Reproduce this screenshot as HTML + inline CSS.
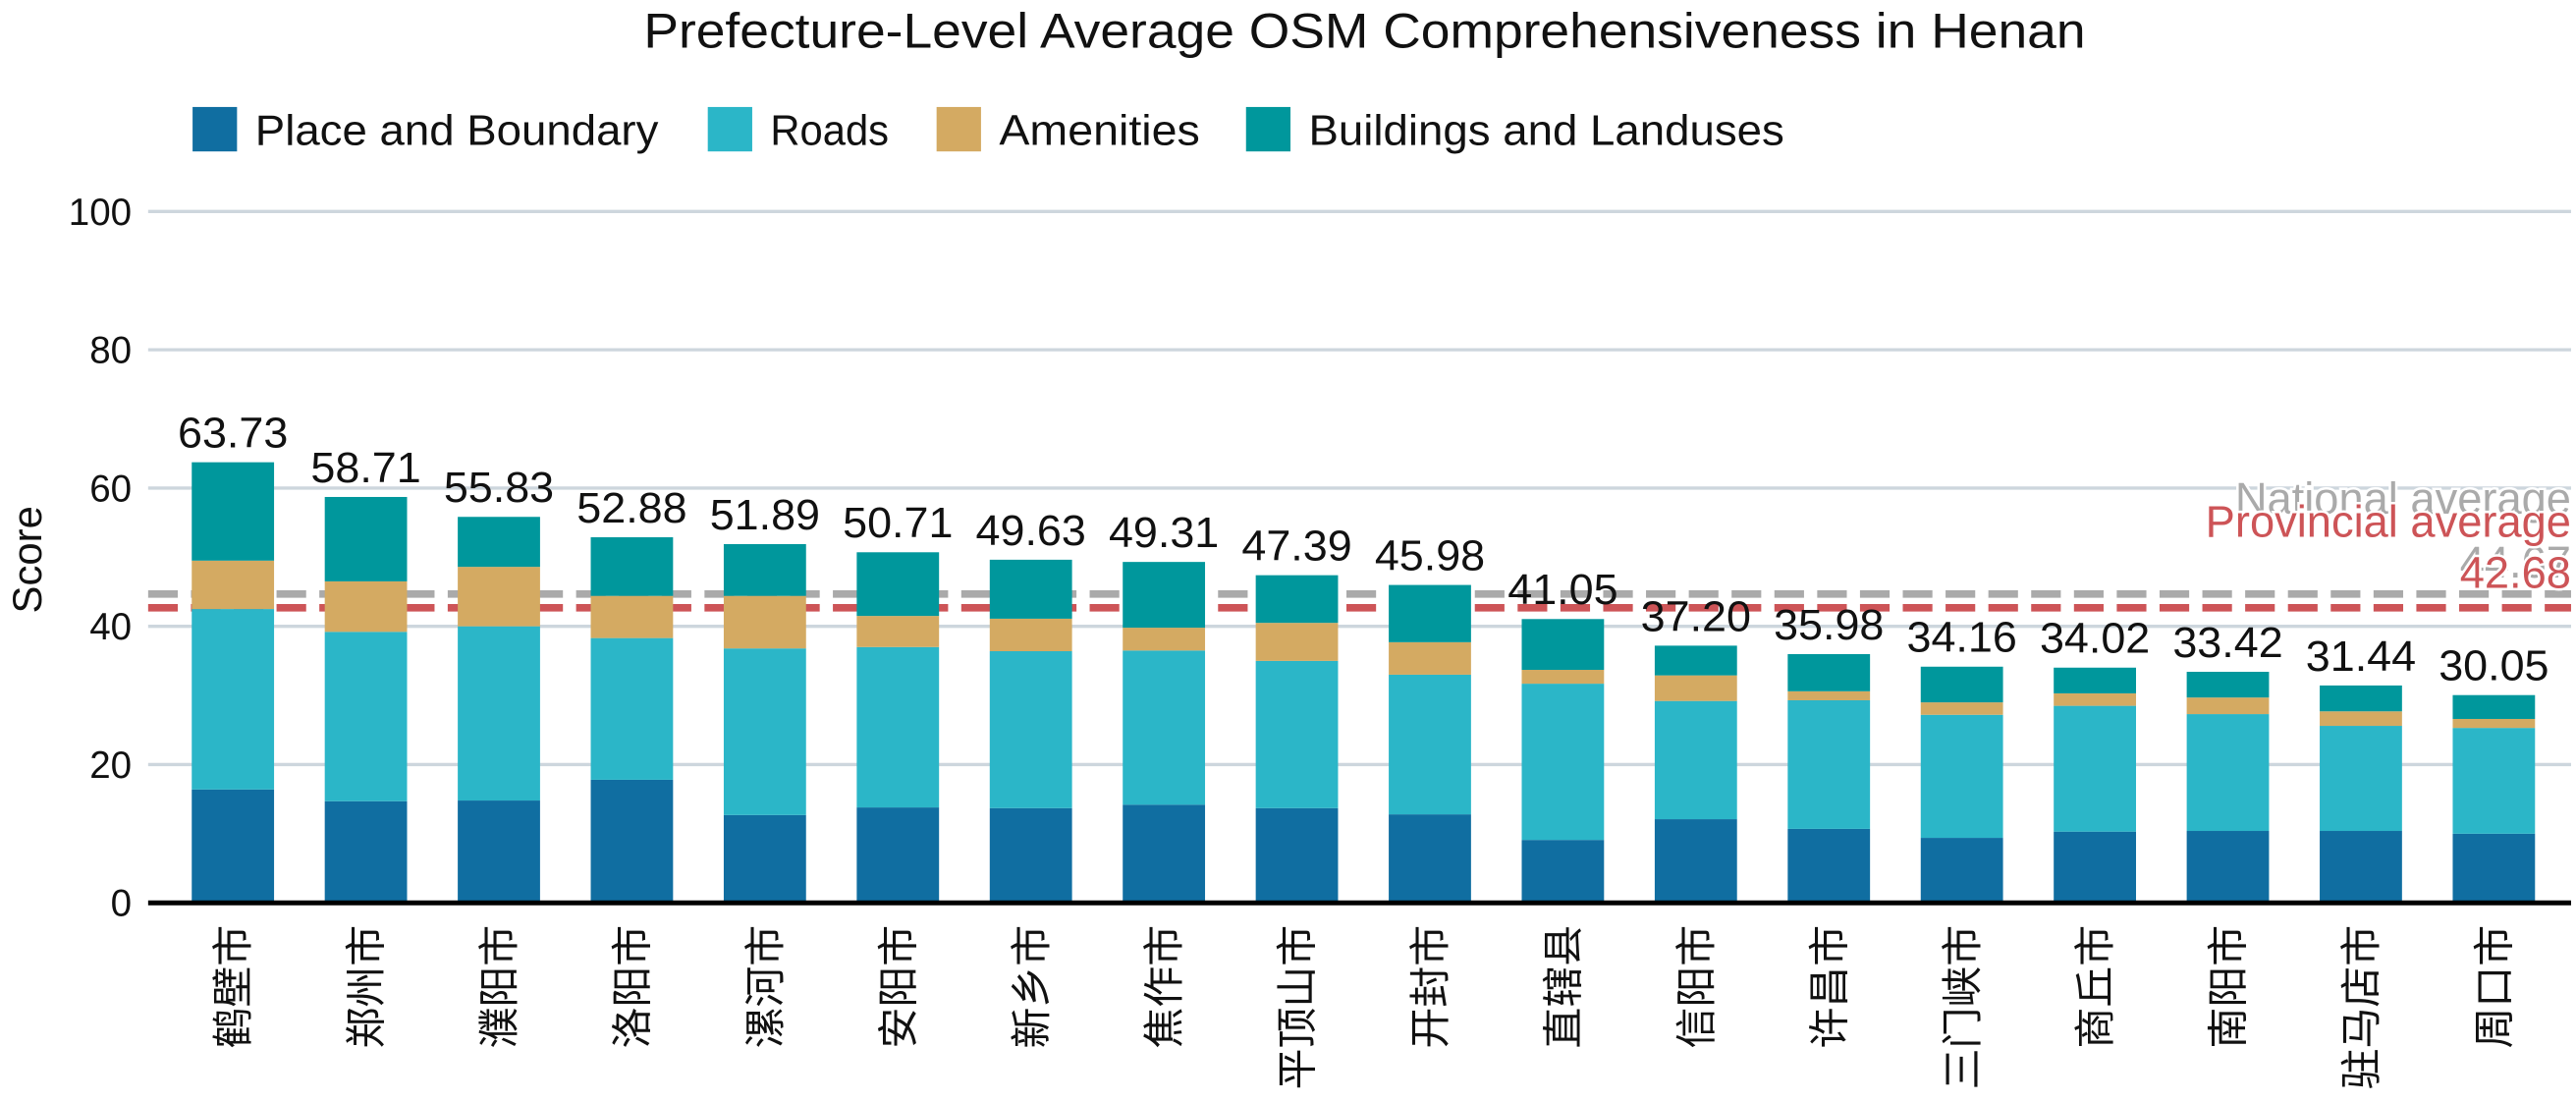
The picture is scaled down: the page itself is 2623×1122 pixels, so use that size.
<!DOCTYPE html>
<html><head><meta charset="utf-8"><style>
html,body{margin:0;padding:0;background:#fff;}
svg{display:block;font-family:"Liberation Sans","Noto Sans CJK SC",sans-serif;}
</style></head><body>
<svg id="chart" width="2623" height="1122" viewBox="0 0 1565 669.5" preserveAspectRatio="none" xmlns="http://www.w3.org/2000/svg">
<text x="829" y="29" font-size="30" text-anchor="middle" fill="#111" textLength="876" lengthAdjust="spacingAndGlyphs">Prefecture-Level Average OSM Comprehensiveness in Henan</text>
<g font-size="26" fill="#111">
<rect x="117" y="65" width="27" height="27" fill="#106ea1"/>
<text x="155" y="88" textLength="245" lengthAdjust="spacingAndGlyphs">Place and Boundary</text>
<rect x="430" y="65" width="27" height="27" fill="#2bb6c8"/>
<text x="468" y="88" textLength="72" lengthAdjust="spacingAndGlyphs">Roads</text>
<rect x="569" y="65" width="27" height="27" fill="#d4aa62"/>
<text x="607" y="88" textLength="122" lengthAdjust="spacingAndGlyphs">Amenities</text>
<rect x="757" y="65" width="27" height="27" fill="#00979c"/>
<text x="795" y="88" textLength="289" lengthAdjust="spacingAndGlyphs">Buildings and Landuses</text>
</g>
<text x="0" y="0" font-size="25" text-anchor="middle" fill="#111" transform="translate(25,340) rotate(-90)">Score</text>
<g id="grid"></g>
<g id="reflines"></g>
<g id="bars"></g>
<g id="labels"></g>
<g id="refs"></g>
</svg>
<script>
const categories = ["鹤壁市","郑州市","濮阳市","洛阳市","漯河市","安阳市","新乡市","焦作市","平顶山市","开封市","直辖县","信阳市","许昌市","三门峡市","商丘市","南阳市","驻马店市","周口市"];
const placeVals = [16.4,14.7,14.8,17.8,12.7,13.8,13.7,14.2,13.7,12.8,9.1,12.1,10.7,9.4,10.3,10.4,10.4,10.0];
const roadVals = [26.1,24.5,25.2,20.5,24.1,23.2,22.7,22.3,21.3,20.2,22.6,17.1,18.6,17.8,18.2,16.9,15.2,15.3];
const amenityVals = [7.0,7.3,8.6,6.1,7.6,4.5,4.7,3.3,5.5,4.7,2.0,3.7,1.3,1.8,1.8,2.4,2.1,1.3];
const totals = [63.73,58.71,55.83,52.88,51.89,50.71,49.63,49.31,47.39,45.98,41.05,37.20,35.98,34.16,34.02,33.42,31.44,30.05];
const yTicks = [0,20,40,60,80,100];
const nationalAvg = 44.67;
const provincialAvg = 42.68;

const NS="http://www.w3.org/2000/svg";
const y0=548.5, yScale=4.2, xFirst=141.5, xStep=80.8, barW=50, plotL=90, plotR=1562;
const yPos = v => y0 - v*yScale;
const xPos = i => xFirst + i*xStep;
function mk(tag, attrs, parent){const e=document.createElementNS(NS,tag);for(const k in attrs)e.setAttribute(k,attrs[k]);parent.appendChild(e);return e;}
const grid=document.getElementById('grid'), bars=document.getElementById('bars'), refs=document.getElementById('refs'), reflines=document.getElementById('reflines'), labels=document.getElementById('labels');

yTicks.forEach(t=>{
  if(t>0){const l=mk('line',{x1:plotL,x2:plotR,y1:yPos(t),y2:yPos(t),stroke:'#cdd6dd','stroke-width':2},grid);
  
  }
  const tx=mk('text',{x:80,y:yPos(t)+8,'font-size':23,'text-anchor':'end',fill:'#111'},grid);
  tx.textContent=t;
  
  
});

const nl=mk('line',{x1:plotL,x2:plotR,y1:yPos(nationalAvg),y2:yPos(nationalAvg),stroke:'#aaaaaa','stroke-width':4.5,'stroke-dasharray':'18 8'},reflines);


const pl=mk('line',{x1:plotL,x2:plotR,y1:yPos(provincialAvg),y2:yPos(provincialAvg),stroke:'#cd5457','stroke-width':4.5,'stroke-dasharray':'18 8'},reflines);



const colors=['#106ea1','#2bb6c8','#d4aa62','#00979c'];
const segNames=['place','roads','amenities','buildings'];
categories.forEach((c,i)=>{
  const vals=[placeVals[i],roadVals[i],amenityVals[i],totals[i]-placeVals[i]-roadVals[i]-amenityVals[i]];
  let base=0;
  vals.forEach((v,k)=>{
    const r=mk('rect',{x:xPos(i)-barW/2,y:yPos(base+v),width:barW,height:v*yScale,fill:colors[k]},bars);
    
    
    base+=v;
  });
  const vl=mk('text',{x:xPos(i),y:yPos(totals[i])-9,'font-size':26,'text-anchor':'middle',fill:'#111',textLength:67,lengthAdjust:'spacingAndGlyphs'},labels);
  vl.textContent=totals[i].toFixed(2);
  
  
  const xl=mk('text',{x:0,y:0,'font-size':25,'text-anchor':'end',fill:'#111',transform:`translate(${xPos(i)+9},562) rotate(-90)`},labels);
  xl.textContent=c;
  
  
});

const ax=mk('line',{x1:plotL,x2:plotR,y1:y0,y2:y0,stroke:'#000','stroke-width':3},bars);



function lab(txt,y,col,name){
  const t=mk('text',{x:plotR,y:y,'font-size':27,'text-anchor':'end',fill:col,stroke:'#fff','stroke-width':3,'paint-order':'stroke'},refs);
  t.textContent=txt;
  
  
}
lab('National average',312,'#aaaaaa','national-average-label');
lab(nationalAvg.toFixed(2),351,'#aaaaaa','national-average-value');
lab('Provincial average',326,'#cd5457','provincial-average-label');
lab(provincialAvg.toFixed(2),357,'#cd5457','provincial-average-value');
</script>
</body></html>
